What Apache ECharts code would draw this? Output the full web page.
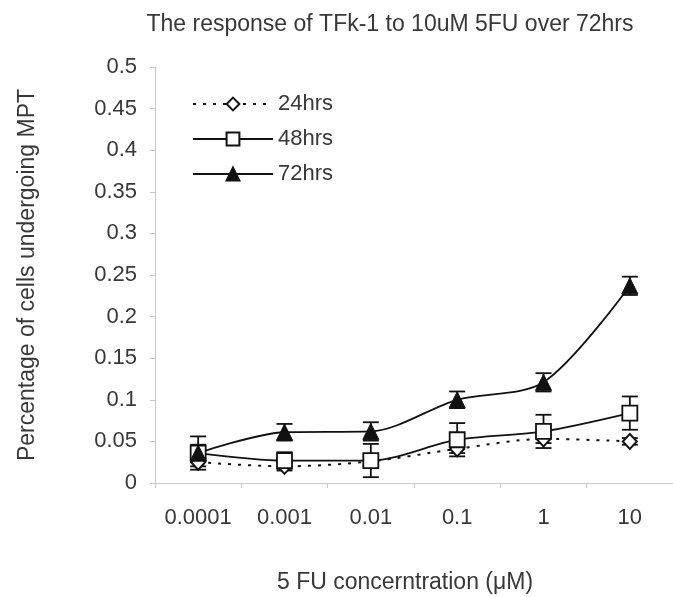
<!DOCTYPE html>
<html><head><meta charset="utf-8">
<script src="https://cdn.jsdelivr.net/npm/echarts@6/dist/echarts.min.js"></script>
<style>html,body{margin:0;padding:0;background:#fff}#c{width:673px;height:597px}</style>
</head><body><div id="c"></div>
<script>
var categories = ['0.0001','0.001','0.01','0.1','1','10'];
var h24 = [0.025, 0.020, 0.026, 0.041, 0.053, 0.050];
var h24err = [0.005, 0.005, 0.005, 0.005, 0.005, 0.004];
var h48 = [0.036, 0.027, 0.027, 0.052, 0.062, 0.084];
var h48err = [0.020, 0.010, 0.020, 0.020, 0.020, 0.020];
var h72 = [0.036, 0.061, 0.062, 0.100, 0.121, 0.237];
var h72err = [0.010, 0.010, 0.011, 0.010, 0.011, 0.011];

var FONT = 'Liberation Sans, Arial, sans-serif';

function errData(vals, errs){
  return vals.map(function(v,i){ return [i, v - errs[i], v + errs[i]]; });
}
function errSeries(vals, errs){
  return {
    type:'custom', silent:true, z:1,
    data: errData(vals, errs),
    renderItem: function(params, api){
      var lo = api.coord([api.value(0), api.value(1)]);
      var hi = api.coord([api.value(0), api.value(2)]);
      var w = 8;
      var st = {stroke:'#111', lineWidth:1.8};
      return {type:'group', children:[
        {type:'line', shape:{x1:hi[0],y1:hi[1],x2:lo[0],y2:lo[1]}, style:st},
        {type:'line', shape:{x1:hi[0]-w,y1:hi[1],x2:hi[0]+w,y2:hi[1]}, style:st},
        {type:'line', shape:{x1:lo[0]-w,y1:lo[1],x2:lo[0]+w,y2:lo[1]}, style:st}
      ]};
    }
  };
}

var chart = echarts.init(document.getElementById('c'), null, {renderer:'canvas'});
chart.setOption({
  animation:false,
  backgroundColor:'#fff',
  title:[
    {text:'The response of TFk-1 to 10uM 5FU over 72hrs', left:385, top:8, textAlign:'center',
     textStyle:{fontFamily:FONT, fontSize:23, fontWeight:'normal', color:'#383838'}},
    {text:'5 FU concerntration (\u03bcM)', left:400, top:566, textAlign:'center',
     textStyle:{fontFamily:FONT, fontSize:23, fontWeight:'normal', color:'#383838'}}
  ],
  legend:{
    orient:'vertical', left:192, top:93, padding:0, itemWidth:80, itemHeight:16, itemGap:13,
    textStyle:{fontFamily:FONT, fontSize:22, color:'#383838', padding:[0,0,0,0]},
    data:['24hrs','48hrs','72hrs']
  },
  grid:{left:155, right:-5, top:67, bottom:114, containLabel:false},
  xAxis:{
    type:'category', data:categories, boundaryGap:true,
    axisLine:{lineStyle:{color:'#c8c8c8', width:1}},
    axisTick:{show:true, length:5, inside:false, lineStyle:{color:'#c8c8c8'}},
    axisLabel:{fontFamily:FONT, fontSize:22, color:'#383838', margin:24, interval:0, hideOverlap:false},
    splitLine:{show:false}
  },
  yAxis:{
    type:'value', min:0, max:0.5, interval:0.05,
    name:'Percentage of cells undergoing MPT', nameLocation:'middle', nameGap:116,
    nameTextStyle:{fontFamily:FONT, fontSize:23, color:'#383838'},
    axisLine:{show:true, lineStyle:{color:'#c8c8c8', width:1}},
    axisTick:{show:true, length:5, lineStyle:{color:'#c8c8c8'}},
    axisLabel:{fontFamily:FONT, fontSize:22, color:'#383838', margin:18,
      formatter:function(v){ return String(+v.toFixed(2)); }},
    splitLine:{show:false}
  },
  series:[
    errSeries(h24, h24err),
    errSeries(h48, h48err),
    errSeries(h72, h72err),
    {name:'24hrs', type:'line', data:h24, smooth:0.3, z:3,
     symbol:'diamond', symbolSize:[14,15],
     lineStyle:{color:'#111', width:2, type:[3,7]},
     itemStyle:{color:'#fff', borderColor:'#111', borderWidth:2}},
    {name:'48hrs', type:'line', data:h48, smooth:0.3, z:3,
     symbol:'rect', symbolSize:15,
     lineStyle:{color:'#111', width:1.8},
     itemStyle:{color:'#fff', borderColor:'#111', borderWidth:1.8}},
    {name:'72hrs', type:'line', data:h72, smooth:0.3, z:3,
     symbol:'triangle', symbolSize:16,
     lineStyle:{color:'#111', width:1.8},
     itemStyle:{color:'#111', borderColor:'#111', borderWidth:1}}
  ]
});
</script></body></html>
